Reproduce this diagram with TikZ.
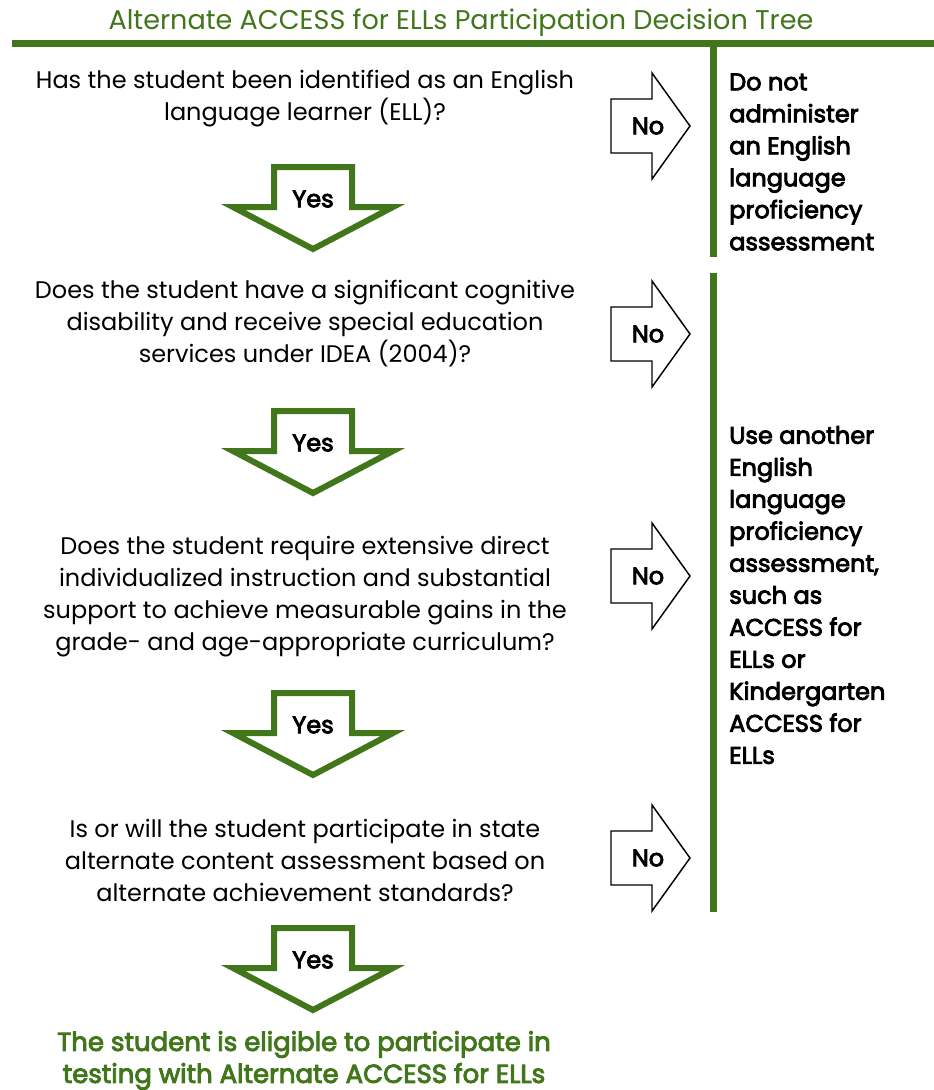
\documentclass[tikz,border=0pt]{standalone}
\usepackage{fontspec}
\setmainfont{Poppins}
\newfontfamily\mediumfont{Poppins}[FakeBold=3.5]
\usetikzlibrary{positioning}
\definecolor{treegreen}{RGB}{65,118,26}

\begin{document}
\begin{tikzpicture}[x=0.75pt,y=0.75pt,yscale=-1,xscale=1,
  question/.style={align=center, inner sep=0.75pt, font=\fontsize{18}{24}\selectfont},
  outcome/.style={align=left, anchor=west, inner sep=0pt, font=\fontsize{18}{24}\mediumfont},
  answer/.style={inner sep=0.75pt, font=\fontsize{18}{24}\mediumfont},
  yesarrow/.style={draw=treegreen, line width=4.5pt, line join=miter},
  noarrow/.style={draw=black, line width=1.1pt},
  rule/.style={draw=treegreen, line width=5.25pt}]
\useasboundingbox (0,0) rectangle (934,1090);

% Title
\node[question, font=\fontsize{20.3}{24}\selectfont, text=treegreen] (title) at (461,23) {Alternate ACCESS for ELLs Participation Decision Tree};
\coordinate (ruleL) at (12,43.5);
\coordinate (ruleR) at (934,43.5);
\draw[rule] (ruleL) -- (ruleR);

% Questions
\node[question] (q1) at (305,99) {Has the student been identified as an English\\language learner (ELL)?};
\node[question] (q2) at (305,324) {Does the student have a significant cognitive\\disability and receive special education\\services under IDEA (2004)?};
\node[question] (q3) at (305,597) {Does the student require extensive direct\\individualized instruction and substantial\\support to achieve measurable gains in the\\grade- and age-appropriate curriculum?};
\node[question] (q4) at (305,860) {Is or will the student participate in state\\alternate content assessment based on\\alternate achievement standards?};
\node[question, font=\fontsize{19.5}{24}\mediumfont, text=treegreen] (eligible) at (304,1060.5) {The student is eligible to participate in\\testing with Alternate ACCESS for ELLs};

% Yes arrows
\node[answer] (yes1) at (313,199) {Yes};
\draw[yesarrow] (yes1.center) ++(-39,-32) -- ++(78,0) -- ++(0,40) -- ++(41,0) -- ++(-80,42) -- ++(-80,-42) -- ++(41,0) -- cycle;
\node[answer] (yes2) at (313,443) {Yes};
\draw[yesarrow] (yes2.center) ++(-39,-32) -- ++(78,0) -- ++(0,40) -- ++(41,0) -- ++(-80,42) -- ++(-80,-42) -- ++(41,0) -- cycle;
\node[answer] (yes3) at (313,725) {Yes};
\draw[yesarrow] (yes3.center) ++(-39,-32) -- ++(78,0) -- ++(0,40) -- ++(41,0) -- ++(-80,42) -- ++(-80,-42) -- ++(41,0) -- cycle;
\node[answer] (yes4) at (313,960) {Yes};
\draw[yesarrow] (yes4.center) ++(-39,-32) -- ++(78,0) -- ++(0,40) -- ++(41,0) -- ++(-80,42) -- ++(-80,-42) -- ++(41,0) -- cycle;

% No arrows
\node[answer] (no1) at (648,126) {No};
\draw[noarrow] (no1.center) ++(-37,-27) -- ++(41,0) -- ++(0,-26) -- ++(38,53) -- ++(-38,53) -- ++(0,-26) -- ++(-41,0) -- cycle;
\node[answer] (no2) at (648,334) {No};
\draw[noarrow] (no2.center) ++(-37,-27) -- ++(41,0) -- ++(0,-26) -- ++(38,53) -- ++(-38,53) -- ++(0,-26) -- ++(-41,0) -- cycle;
\node[answer] (no3) at (648,576) {No};
\draw[noarrow] (no3.center) ++(-37,-27) -- ++(41,0) -- ++(0,-26) -- ++(38,53) -- ++(-38,53) -- ++(0,-26) -- ++(-41,0) -- cycle;
\node[answer] (no4) at (648,858) {No};
\draw[noarrow] (no4.center) ++(-37,-27) -- ++(41,0) -- ++(0,-26) -- ++(38,53) -- ++(-38,53) -- ++(0,-26) -- ++(-41,0) -- cycle;

% Outcome bars
\coordinate (bar1top) at (713.5,47);
\coordinate (bar1bot) at (713.5,256.7);
\coordinate (bar2top) at (713.5,273);
\coordinate (bar2bot) at (713.5,912);
\draw[rule] (bar1top) -- (bar1bot);
\draw[rule] (bar2top) -- (bar2bot);

% Outcomes
\node[outcome] (donot) at (729,162) {Do not\\administer\\an English\\language\\proficiency\\assessment};
\node[outcome] (useother) at (729,595) {Use another\\English\\language\\proficiency\\assessment,\\such as\\ACCESS for\\ELLs or\\Kindergarten\\ACCESS for\\ELLs};

\end{tikzpicture}
\end{document}
